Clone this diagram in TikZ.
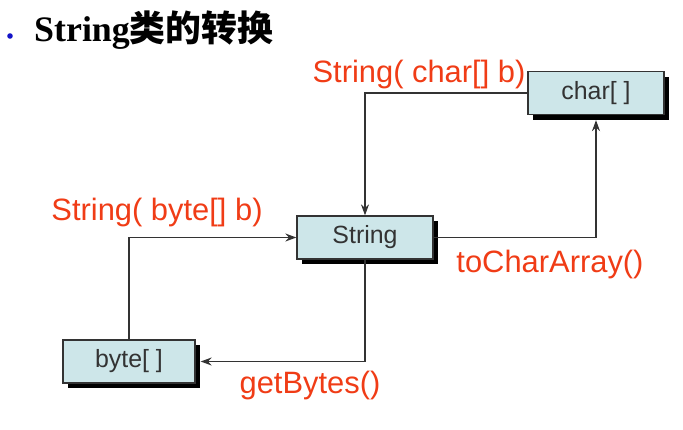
\documentclass[tikz,border=0pt]{standalone}
\usepackage{fontspec}
\setmainfont{Liberation Sans}
\newfontfamily\titlefont{Liberation Serif}
\newfontfamily\cjk{Noto Sans CJK SC}
\usepackage{tikz}
\usetikzlibrary{arrows.meta,positioning,shadows}
\definecolor{cajafill}{RGB}{205,230,233}
\definecolor{rojo}{RGB}{240,60,22}
\definecolor{gris}{RGB}{51,51,51}
\definecolor{azul}{RGB}{20,20,200}

\begin{document}
\begin{tikzpicture}[x=1bp, y=-1bp,
        caja/.style={draw=gris, fill=cajafill, line width=1.3bp, minimum width=136bp, minimum height=43bp,
            inner sep=0pt, text=gris, font=\fontsize{25}{27}\selectfont,
            drop shadow={shadow xshift=5bp, shadow yshift=-5bp, fill=black, opacity=1}},
        flecha/.style={-{Stealth[length=11bp, width=8bp]}, gris, line width=1.3bp},
        etiq/.style={text=rojo, font=\fontsize{31}{33}\selectfont, inner sep=0pt}
    ]
        \useasboundingbox (0,0) rectangle (683,429);
        % titulo
        \fill[azul] (10,36) circle (2.8bp);
        \node (titulo) [anchor=west, inner sep=0pt, font=\fontsize{36}{38}\selectfont\bfseries] at (34,30)
            {\titlefont String\cjk 类的转换};
        % nodos
        \node (str) [caja] at (365, 237.5) {String};
        \node (chr) [caja] at (596, 93)    {char[ ]};
        \node (byt) [caja, minimum width=132bp] at (129, 361.5) {byte[ ]};
        % conexiones
        \draw[flecha] (chr.west) -| (str.north);
        \draw[flecha] (str.east) -| ([yshift=-5bp]chr.south);
        \draw[flecha] (byt.north) |- (str.west);
        \draw[flecha] (str.south) |- ([xshift=5bp]byt.east);
        % etiquetas
        \node (l1) [etiq] at (419, 75)  {String( char[] b)};
        \node (l2) [etiq] at (157, 213) {String( byte[] b)};
        \node (l3) [etiq] at (550, 265) {toCharArray()};
        \node (l4) [etiq] at (310, 386) {getBytes()};
    \end{tikzpicture}
\end{document}
